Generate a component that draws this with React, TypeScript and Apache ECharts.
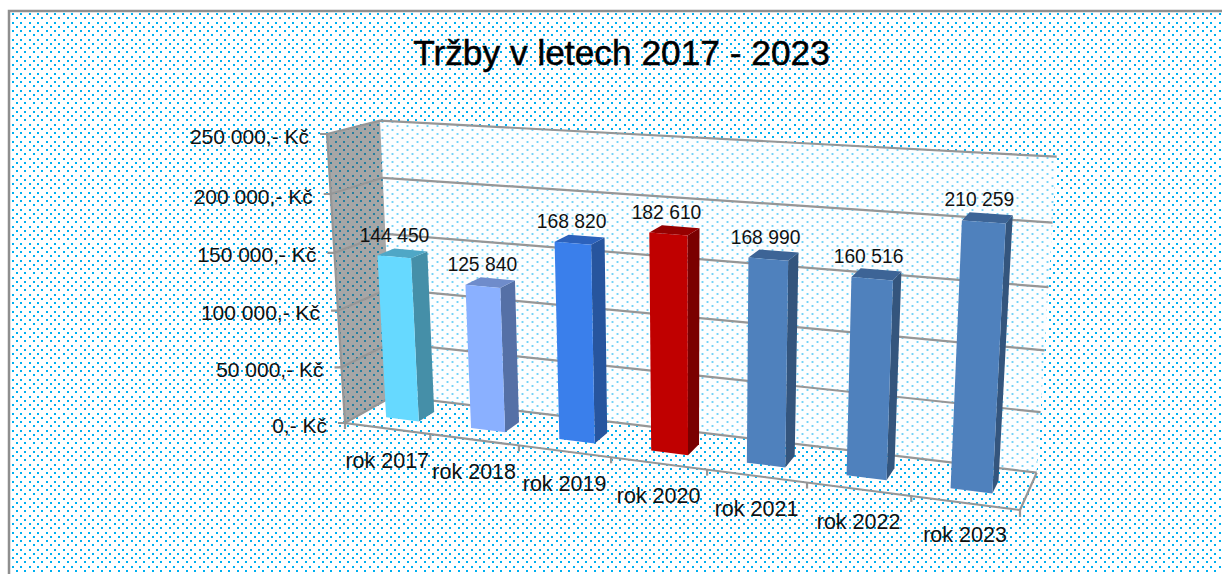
import React, { useEffect, useRef } from "react";
import * as echarts from "echarts";

const title = "Tržby v letech 2017 - 2023";
const categories = ["rok 2017", "rok 2018", "rok 2019", "rok 2020", "rok 2021", "rok 2022", "rok 2023"];
const values = [144450, 125840, 168820, 182610, 168990, 160516, 210259];
const valueLabels = ["144 450", "125 840", "168 820", "182 610", "168 990", "160 516", "210 259"];
const ticks = [0, 50000, 100000, 150000, 200000, 250000];
const tickLabels = ["0,- Kč", "50 000,- Kč", "100 000,- Kč", "150 000,- Kč", "200 000,- Kč", "250 000,- Kč"];
const frontColors = ["#66D9FF", "#8AB0FF", "#3A7FEB", "#C00000", "#4F81BD", "#4F81BD", "#4F81BD"];
const sideColors = ["#458FA8", "#5570A6", "#27559E", "#7A0000", "#34557D", "#34557D", "#34557D"];
const topColors = ["#4FA7C6", "#6F8CCB", "#2C62BC", "#960000", "#3D6496", "#3D6496", "#3D6496"];

type P = [number, number];
// Projection frame of the 3-D box: bottom-left, bottom-right, top-right, top-left
const backQuad: P[] = [[393, 396], [1036.7, 472.7], [1056.7, 156.7], [380, 120.7]];
const frontQuad: P[] = [[345, 423], [1020, 510], [1037, 179.4], [327, 134]];
const BAR_FRONT = 0.67;
const BAR_BACK = 0.33;
const BAR_WIDTH = 0.39;
const LINE = "#969696";
const FONT = '"Liberation Sans", Arial, sans-serif';

function homography(q: P[]) {
  const [[x0, y0], [x1, y1], [x2, y2], [x3, y3]] = q;
  const dx1 = x1 - x2, dx2 = x3 - x2, sx = x0 - x1 + x2 - x3;
  const dy1 = y1 - y2, dy2 = y3 - y2, sy = y0 - y1 + y2 - y3;
  const den = dx1 * dy2 - dx2 * dy1;
  const g = (sx * dy2 - dx2 * sy) / den;
  const h = (dx1 * sy - sx * dy1) / den;
  const a = x1 - x0 + g * x1, b = x3 - x0 + h * x3;
  const d = y1 - y0 + g * y1, e = y3 - y0 + h * y3;
  return (u: number, v: number): P => {
    const w = g * u + h * v + 1;
    return [(a * u + b * v + x0) / w, (d * u + e * v + y0) / w];
  };
}
const backPlane = homography(backQuad);
const frontPlane = homography(frontQuad);
// u: along categories 0..1, v: value 0..1, z: 0 = back wall, 1 = front edge
function project(u: number, v: number, z: number): P {
  const b = backPlane(u, v);
  const f = frontPlane(u, v);
  return [b[0] + (f[0] - b[0]) * z, b[1] + (f[1] - b[1]) * z];
}

function makeTile(size: number[], dots: number[][], color: string, bg: string | null, r: number) {
  const c = document.createElement("canvas");
  c.width = size[0];
  c.height = size[1];
  const x = c.getContext("2d")!;
  if (bg) {
    x.fillStyle = bg;
    x.fillRect(0, 0, size[0], size[1]);
  }
  x.fillStyle = color;
  for (const [dx, dy] of dots) x.fillRect(dx - r, dy - r, 2 * r, 2 * r);
  return c;
}

const poly = (points: P[], fill: any) => ({ type: "polygon", shape: { points }, style: { fill, stroke: null } });
const line = (points: P[], width = 2.2, stroke = LINE) => ({
  type: "polyline",
  shape: { points },
  style: { stroke, lineWidth: width, fill: null },
});
const text = (t: string, x: number, y: number, size: number, align: string) => ({
  type: "text",
  style: { text: t, x, y, fill: "#111", font: `${size}px ${FONT}`, align, verticalAlign: "middle" },
});

export default function App() {
  const ref = useRef<HTMLDivElement>(null);
  useEffect(() => {
    document.body.style.margin = "0";
    document.body.style.overflow = "hidden";
    const chart = echarts.init(ref.current!, undefined, { renderer: "svg" });
    const baseTile = makeTile(
      [17, 17],
      [[4, 6], [13, 6], [8, 10], [17, 10], [0, 10], [4, 14], [13, 14], [8, 1], [17, 1], [0, 1]],
      "#00B0F0",
      null,
      1
    );
    const wallTile = makeTile([10, 8], [[2.5, 2], [7.5, 6]], "#6FD0F6", "#FDFEFF", 0.95);

    const fraction = (params: any, api: any, cat: number, val: number) => {
      const rect = params.coordSys;
      const pt = api.coord([cat, val]);
      return [(pt[0] - rect.x) / rect.width, 1 - (pt[1] - rect.y) / rect.height];
    };

    chart.setOption({
      animation: false,
      tooltip: { show: false },
      title: {
        text: title,
        left: 616.5,
        top: 30,
        textAlign: "center",
        textStyle: { fontFamily: FONT, fontSize: 35.3, fontWeight: "normal", color: "#000", textBorderColor: "#000", textBorderWidth: 0.5 },
      },
      graphic: [
        {
          type: "rect",
          shape: { x: 9, y: 11, width: 1300, height: 700 },
          style: { fill: { image: baseTile, repeat: "repeat" }, stroke: "#8F8F8F", lineWidth: 2.5 },
          silent: true,
        },
      ],
      grid: { left: 0, right: 0, top: 0, bottom: 0, containLabel: false },
      xAxis: { type: "category", data: categories, show: false, boundaryGap: true },
      yAxis: { type: "value", min: 0, max: 250000, interval: 50000, show: false },
      series: [
        {
          type: "custom",
          name: "walls",
          silent: true,
          data: [[0, 0]],
          encode: { x: 0, y: 1 },
          renderItem: () => ({
            type: "group",
            children: [
              poly([project(0, 0, 0), project(1, 0, 0), project(1, 1, 0), project(0, 1, 0)], { image: wallTile, repeat: "repeat" }),
              poly([project(0, 0, 1), project(0, 0, 0), project(0, 1, 0), project(0, 1, 1)], "rgba(77,77,77,0.5)"),
              line([project(0, 1, 1), project(0, 0, 1), project(1, 0, 1), project(1, 0, 0)]),
            ],
          }),
        },
        {
          type: "custom",
          name: "value ticks",
          silent: true,
          data: ticks.map((t) => [0, t]),
          encode: { x: 0, y: 1 },
          renderItem: (params: any, api: any) => {
            const [, v] = fraction(params, api, 0, api.value(1));
            const f = project(0, v, 1);
            return {
              type: "group",
              children: [
                line([[f[0] - 7, f[1]], f, project(0, v, 0), project(1, v, 0)]),
                text(tickLabels[params.dataIndex], f[0] - 18, f[1] + 2, 21, "right"),
              ],
            };
          },
        },
        {
          type: "custom",
          name: "category ticks",
          silent: true,
          data: categories.map((_, i) => [i, 0]),
          encode: { x: 0, y: 1 },
          renderItem: (params: any, api: any) => {
            const i = params.dataIndex;
            const [u] = fraction(params, api, i, 0);
            const half = api.size([1, 0])[0] / params.coordSys.width / 2;
            const left = project(u - half, 0, 1);
            const right = project(u + half, 0, 1);
            const mid = project(u, 0, 1);
            const kids: any[] = [
              line([left, [left[0], left[1] + 6]]),
              text(categories[i], mid[0], mid[1] + 32.5, 21.5, "center"),
            ];
            if (i === categories.length - 1) kids.push(line([right, [right[0], right[1] + 7]]));
            return { type: "group", children: kids };
          },
        },
        {
          type: "custom",
          name: "Tržby",
          silent: true,
          data: values.map((v, i) => [i, v]),
          encode: { x: 0, y: 1 },
          renderItem: (params: any, api: any) => {
            const i = params.dataIndex;
            const [u, v] = fraction(params, api, api.value(0), api.value(1));
            const half = (api.size([1, 0])[0] / params.coordSys.width / 2) * BAR_WIDTH;
            const a = u - half;
            const b = u + half;
            const topMid = project(u, v, (BAR_FRONT + BAR_BACK) / 2);
            return {
              type: "group",
              children: [
                poly([project(b, 0, BAR_FRONT), project(b, 0, BAR_BACK), project(b, v, BAR_BACK), project(b, v, BAR_FRONT)], sideColors[i]),
                poly([project(a, v, BAR_FRONT), project(b, v, BAR_FRONT), project(b, v, BAR_BACK), project(a, v, BAR_BACK)], topColors[i]),
                poly([project(a, 0, BAR_FRONT), project(b, 0, BAR_FRONT), project(b, v, BAR_FRONT), project(a, v, BAR_FRONT)], frontColors[i]),
                text(valueLabels[i], topMid[0] - 8, topMid[1] - 18, 19.3, "center"),
              ],
            };
          },
        },
      ],
    });
    return () => chart.dispose();
  }, []);
  return <div ref={ref} style={{ position: "fixed", left: 0, top: 0, width: 1222, height: 574 }} />;
}
